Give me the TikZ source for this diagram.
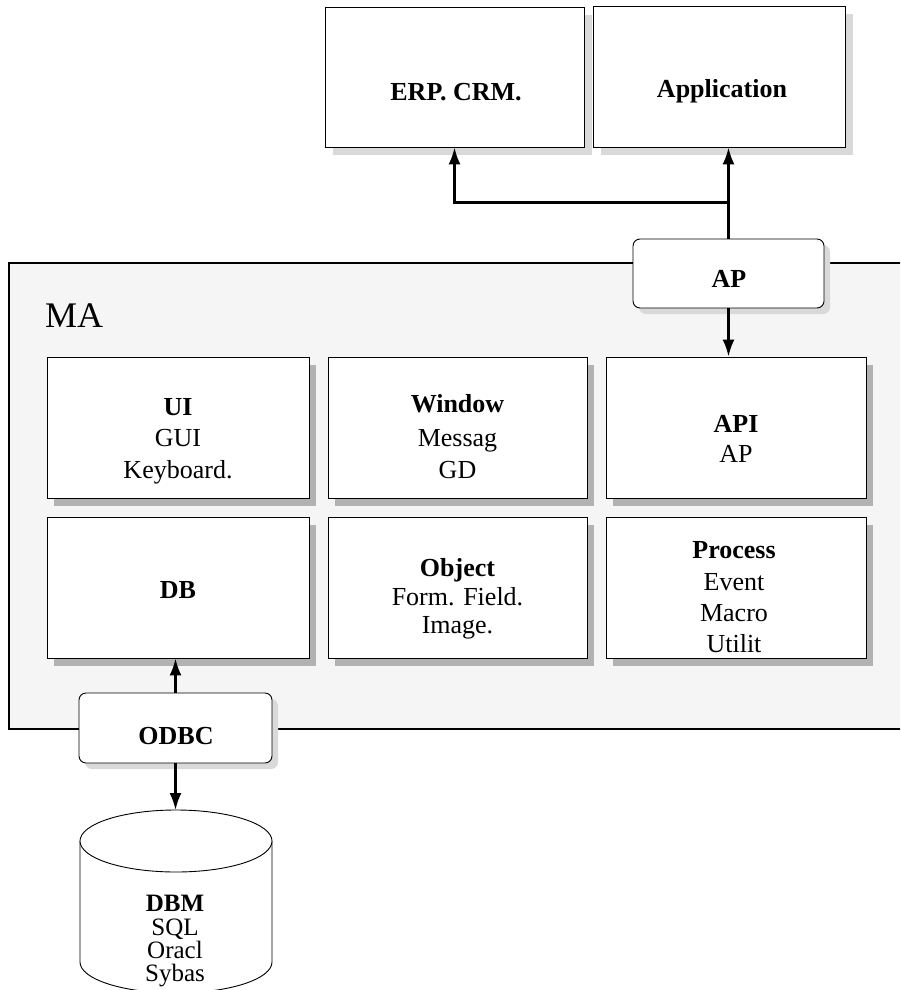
\documentclass[tikz,border=0pt]{standalone}
\usepackage{fontspec}
\setmainfont{Liberation Serif}
\usetikzlibrary{arrows.meta,shadows,calc}
\begin{document}
\begin{tikzpicture}[x=1pt,y=-1pt,
  txt/.style={inner sep=0pt, anchor=base, font=\fontsize{26}{30}\selectfont},
  ttl/.style={inner sep=0pt, anchor=base, font=\fontsize{26}{30}\selectfont\bfseries},
  cyltxt/.style={inner sep=0pt, anchor=base, font=\fontsize{25}{28}\selectfont},
  rowbox/.style={draw=black, line width=0.9pt, fill=white, inner sep=0pt,
    drop shadow={shadow xshift=7pt, shadow yshift=-8pt, fill=gray!60, opacity=1}},
  topbox/.style={draw=black, line width=0.8pt, fill=white, inner sep=0pt,
    drop shadow={shadow xshift=8pt, shadow yshift=-8pt, fill=gray!30, opacity=1}},
  rbox/.style={draw=black, line width=0.9pt, fill=white, inner sep=0pt, rounded corners=7pt,
    drop shadow={shadow xshift=6pt, shadow yshift=-6pt, fill=gray!30, opacity=1}},
  conn/.style={draw=black, line width=2.4pt},
  tip/.style={-{Latex[length=17pt,width=12pt]}}
]
\useasboundingbox (0,0) rectangle (900,990);
\clip (0,0) rectangle (900,990);

% MA frame
\draw[line width=2.6pt, fill=gray!8] (9,263) rectangle (940,729);
\node[inner sep=0pt, anchor=base west, font=\fontsize{36}{40}\selectfont] (ma) at (45,327) {MA};

% top boxes
\node[topbox, minimum width=259pt, minimum height=140pt] (erp) at (454.5,77) {};
\node[topbox, minimum width=252pt, minimum height=141pt] (app) at (719,76.5) {};
\node[ttl] (erpt) at (456,100) {ERP. CRM.};
\node[ttl] (appt) at (722,97) {Application};

% AP box
\node[rbox, minimum width=191pt, minimum height=69pt] (ap) at (728.5,273.5) {};
\node[ttl] (apt) at (729,287) {AP};

% row 1
\node[rowbox, minimum width=262pt, minimum height=141pt] (ui) at (178,427.5) {};
\node[rowbox, minimum width=259pt, minimum height=141pt] (win) at (457.5,427.5) {};
\node[rowbox, minimum width=260pt, minimum height=141pt] (api) at (736,427.5) {};
% row 2
\node[rowbox, minimum width=262pt, minimum height=141pt] (db) at (178,587.5) {};
\node[rowbox, minimum width=259pt, minimum height=141pt] (obj) at (457.5,587.5) {};
\node[rowbox, minimum width=260pt, minimum height=141pt] (proc) at (736,587.5) {};

% row 1 texts
\node[ttl] (ui1) at (178,415) {UI};
\node[txt] (ui2) at (178,446) {GUI};
\node[txt] (ui3) at (178,478) {Keyboard.};
\node[ttl] (win1) at (457.5,412) {Window};
\node[txt] (win2) at (457.5,446) {Messag};
\node[txt] (win3) at (457.5,478) {GD};
\node[ttl] (api1) at (736,432) {API};
\node[txt] (api2) at (736,462) {AP};
% row 2 texts
\node[ttl] (db1) at (178,598) {DB};
\node[ttl] (obj1) at (457.5,576) {Object};
\node[txt] (obj2) at (457.5,605) {Form. Field.};
\node[txt] (obj3) at (457.5,633) {Image.};
\node[ttl] (proc1) at (734,558) {Process};
\node[txt] (proc2) at (734,590) {Event};
\node[txt] (proc3) at (734,621) {Macro};
\node[txt] (proc4) at (734,652) {Utilit};

% ODBC box
\node[rbox, minimum width=193pt, minimum height=70pt] (odbc) at (175.5,728) {};
\node[ttl] (odbct) at (176,744) {ODBC};

% database cylinder
\draw[line width=0.9pt, fill=white] (80,841) -- (80,962)
  arc[start angle=180, end angle=0, x radius=96, y radius=31] -- (272,841);
\draw[line width=0.9pt, fill=white] (176,841) ellipse [x radius=96, y radius=31];
\coordinate (dbmtop) at (175.5,810);
\node[ttl, font=\fontsize{25}{28}\selectfont\bfseries] (dbm1) at (175,911) {DBM};
\node[cyltxt] (dbm2) at (175,935) {SQL};
\node[cyltxt] (dbm3) at (175,958) {Oracl};
\node[cyltxt] (dbm4) at (175,981) {Sybas};

% connectors
\coordinate (junc) at ($(ap.north)+(0,-36)$);
\draw[conn, tip] (ap.north) -- (ap.north |- app.south);
\draw[conn, tip] (junc) -| (erp.south);
\draw[conn, tip] (ap.south) -- (ap.south |- api.north);
\draw[conn, tip] (odbc.north) -- (odbc.north |- db.south);
\draw[conn, tip] (odbc.south) -- (dbmtop);
\end{tikzpicture}
\end{document}
